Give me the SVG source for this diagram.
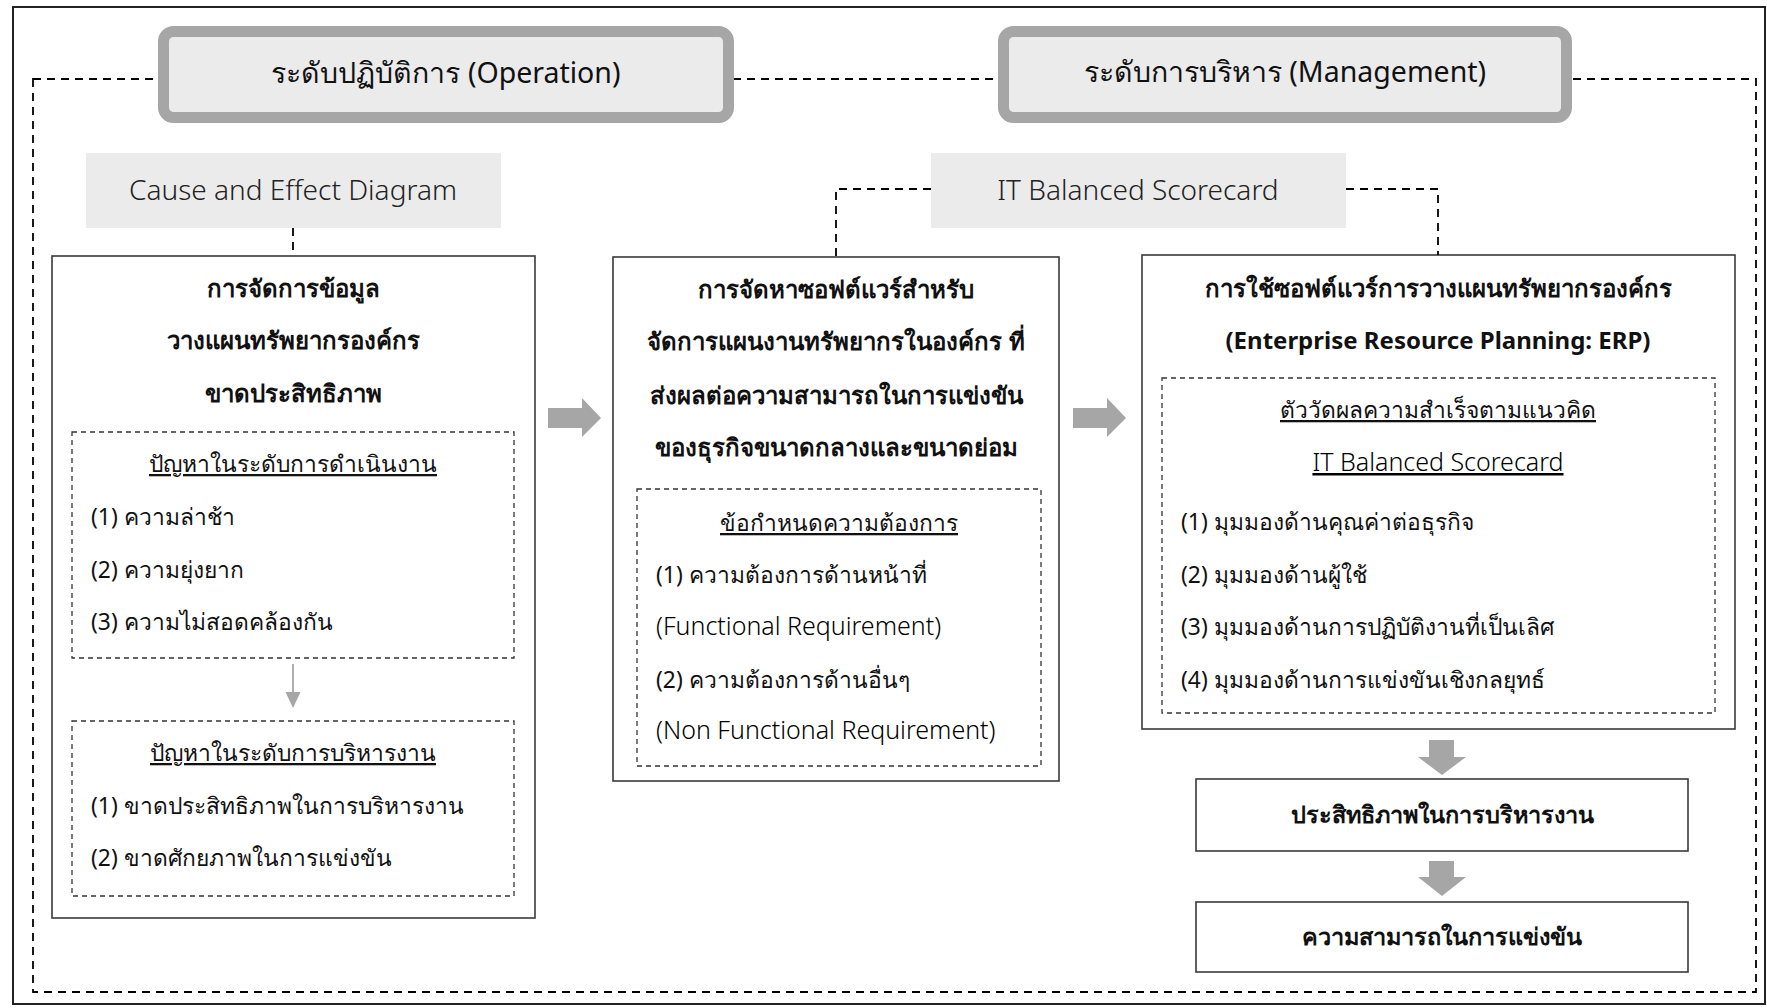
<svg xmlns="http://www.w3.org/2000/svg" width="1767" height="1008" viewBox="0 0 1767 1008">
  <style>
    .frame { fill: none; stroke: #222; stroke-width: 2; }
    .dash { fill: none; stroke: #000; stroke-width: 1.8; stroke-dasharray: 8 6; }
    .dash-thin { fill: none; stroke: #333; stroke-width: 1.3; stroke-dasharray: 5 4; }
    .level { fill: #ebebeb; stroke: #a6a6a6; stroke-width: 11; }
    .tool { fill: #ebebeb; stroke: none; }
    .box { fill: #fff; stroke: #3a3a3a; stroke-width: 1.6; }
    .block-arrow { fill: #a6a6a6; }
    .thin-arrow { stroke: #a6a6a6; stroke-width: 1.8; fill: none; }
    text { font-family: "Noto Sans", "DejaVu Sans", sans-serif; fill: #111; }
    .title { font-size: 28.5px; text-anchor: middle; }
    .tool-label { font-size: 28px; text-anchor: middle; font-weight: 300; fill: #222; }
    .head { font-size: 24px; font-weight: bold; text-anchor: middle; }
    .sub { font-size: 22.8px; text-anchor: middle; text-decoration: underline; }
    .sub-latin { font-size: 25px; font-weight: 300; fill: #000; text-anchor: middle; text-decoration: underline; }
    .item { font-size: 22.8px; }
    .item-latin { font-size: 25px; font-weight: 300; fill: #000; }
    .result { font-size: 23.5px; font-weight: bold; text-anchor: middle; }
  </style>

  <!-- outer solid border -->
  <rect class="frame" x="13" y="7" width="1752" height="997"/>
  <!-- dashed scope frame -->
  <rect class="dash" x="33" y="79" width="1723" height="913"/>

  <!-- level headers -->
  <g id="level-operation">
    <rect class="level" x="163.5" y="31.5" width="565" height="86" rx="10"/>
    <text class="title" x="446" y="83">ระดับปฏิบัติการ (Operation)</text>
  </g>
  <g id="level-management">
    <rect class="level" x="1003.5" y="31.5" width="563" height="86" rx="10"/>
    <text class="title" x="1285" y="82">ระดับการบริหาร (Management)</text>
  </g>

  <!-- analysis tools -->
  <g id="tool-cause-effect">
    <rect class="tool" x="86" y="153" width="415" height="75"/>
    <text class="tool-label" x="293" y="200">Cause and Effect Diagram</text>
  </g>
  <g id="tool-it-bsc">
    <rect class="tool" x="931" y="153" width="415" height="75"/>
    <text class="tool-label" x="1138" y="200">IT Balanced Scorecard</text>
  </g>

  <!-- problem box -->
  <g id="node-problems">
    <rect class="box" x="52" y="256" width="483" height="662"/>
    <text class="head" x="293" y="297">การจัดการข้อมูล</text>
    <text class="head" x="293" y="349">วางแผนทรัพยากรองค์กร</text>
    <text class="head" x="293" y="402">ขาดประสิทธิภาพ</text>
    <rect class="dash-thin" x="72" y="432" width="442" height="226"/>
    <text class="sub" x="293" y="472">ปัญหาในระดับการดำเนินงาน</text>
    <text class="item" x="91" y="525">(1) ความล่าช้า</text>
    <text class="item" x="91" y="578">(2) ความยุ่งยาก</text>
    <text class="item" x="91" y="630">(3) ความไม่สอดคล้องกัน</text>
    <rect class="dash-thin" x="72" y="721" width="442" height="175"/>
    <text class="sub" x="293" y="761">ปัญหาในระดับการบริหารงาน</text>
    <text class="item" x="91" y="814">(1) ขาดประสิทธิภาพในการบริหารงาน</text>
    <text class="item" x="91" y="866">(2) ขาดศักยภาพในการแข่งขัน</text>
  </g>

  <!-- software acquisition box -->
  <g id="node-acquisition">
    <rect class="box" x="613" y="257" width="446" height="524"/>
    <text class="head" x="836" y="298">การจัดหาซอฟต์แวร์สำหรับ</text>
    <text class="head" x="836" y="350">จัดการแผนงานทรัพยากรในองค์กร ที่</text>
    <text class="head" x="836" y="404">ส่งผลต่อความสามารถในการแข่งขัน</text>
    <text class="head" x="836" y="456">ของธุรกิจขนาดกลางและขนาดย่อม</text>
    <rect class="dash-thin" x="637" y="489" width="404" height="277"/>
    <text class="sub" x="839" y="531">ข้อกำหนดความต้องการ</text>
    <text class="item" x="656" y="583">(1) ความต้องการด้านหน้าที่</text>
    <text class="item-latin" x="656" y="635">(Functional Requirement)</text>
    <text class="item" x="656" y="688">(2) ความต้องการด้านอื่นๆ</text>
    <text class="item-latin" x="656" y="739">(Non Functional Requirement)</text>
  </g>

  <!-- ERP usage box -->
  <g id="node-erp">
    <rect class="box" x="1142" y="255" width="593" height="474"/>
    <text class="head" x="1438" y="297">การใช้ซอฟต์แวร์การวางแผนทรัพยากรองค์กร</text>
    <text class="head" x="1438" y="349">(Enterprise Resource Planning: ERP)</text>
    <rect class="dash-thin" x="1162" y="378" width="553" height="335"/>
    <text class="sub" x="1438" y="418">ตัววัดผลความสำเร็จตามแนวคิด</text>
    <text class="sub-latin" x="1438" y="471">IT Balanced Scorecard</text>
    <text class="item" x="1181" y="530">(1) มุมมองด้านคุณค่าต่อธุรกิจ</text>
    <text class="item" x="1181" y="583">(2) มุมมองด้านผู้ใช้</text>
    <text class="item" x="1181" y="635">(3) มุมมองด้านการปฏิบัติงานที่เป็นเลิศ</text>
    <text class="item" x="1181" y="688">(4) มุมมองด้านการแข่งขันเชิงกลยุทธ์</text>
  </g>

  <!-- outcomes -->
  <g id="node-efficiency">
    <rect class="box" x="1196" y="779" width="492" height="72"/>
    <text class="result" x="1442" y="823">ประสิทธิภาพในการบริหารงาน</text>
  </g>
  <g id="node-competitiveness">
    <rect class="box" x="1196" y="902" width="492" height="70"/>
    <text class="result" x="1442" y="945">ความสามารถในการแข่งขัน</text>
  </g>

  <!-- connectors (drawn last so they sit above box fills) -->
  <g id="connectors">
    <path class="dash" d="M293 228 V256"/>
    <path class="dash" d="M931 189 H836 V256"/>
    <path class="dash" d="M1346 189 H1438 V255"/>
    <polygon class="block-arrow" points="548,408 582,408 582,398 601,418 582,437 582,428 548,428"/>
    <polygon class="block-arrow" points="1073,408 1107,408 1107,398 1126,418 1107,437 1107,428 1073,428"/>
    <polygon class="block-arrow" points="1429,740 1454,740 1454,757 1466,757 1442,775 1418,757 1429,757"/>
    <polygon class="block-arrow" points="1429,861 1454,861 1454,877 1466,877 1442,896 1418,877 1429,877"/>
    <path class="thin-arrow" d="M293 664 V694"/>
    <polygon class="block-arrow" points="285.5,692 300.5,692 293,708"/>
  </g>
</svg>
